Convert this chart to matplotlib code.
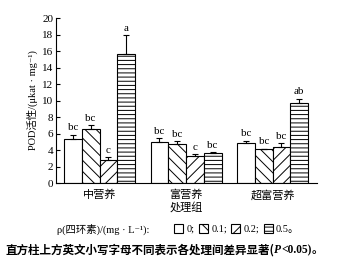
import numpy as np
import matplotlib
matplotlib.use("Agg")
import matplotlib.pyplot as plt
from matplotlib.patches import Patch

plt.rcParams['font.family'] = ['Liberation Serif', 'Noto Sans CJK SC', 'DejaVu Serif']
plt.rcParams['hatch.linewidth'] = 0.7

# data
groups = ['中营养', '富营养', '超富营养']
conc_labels = ['0;', '0.1;', '0.2;', '0.5。']
hatches = ['', '\\\\\\', '///', '----']

pod_0 = [5.3, 5.0, 4.8]
pod_01 = [6.5, 4.7, 4.1]
pod_02 = [2.8, 3.3, 4.4]
pod_05 = [15.6, 3.6, 9.7]
err_0 = [0.55, 0.4, 0.3]
err_01 = [0.5, 0.35, 0.08]
err_02 = [0.3, 0.2, 0.4]
err_05 = [2.3, 0.1, 0.5]
sig_0 = ['bc', 'bc', 'bc']
sig_01 = ['bc', 'bc', 'bc']
sig_02 = ['c', 'c', 'bc']
sig_05 = ['a', 'bc', 'ab']

values = [pod_0, pod_01, pod_02, pod_05]
errors = [err_0, err_01, err_02, err_05]
letters = [sig_0, sig_01, sig_02, sig_05]

fig = plt.figure(figsize=(3.48, 2.62), dpi=100)
ax = fig.add_axes([0.161, 0.3015, 0.75, 0.6295])

x = np.arange(len(groups))
w = 0.205
for i in range(4):
    xs = x + (i - 1.5) * w
    ax.bar(xs, values[i], w, color='white', edgecolor='black', linewidth=0.8,
           hatch=hatches[i], zorder=2)
    ax.errorbar(xs, values[i], yerr=[np.zeros(3), errors[i]], fmt='none',
                ecolor='black', elinewidth=0.8, capsize=2.2, capthick=0.8, zorder=3)
    for xi, v, e, s in zip(xs, values[i], errors[i], letters[i]):
        ax.text(xi, v + e + 0.3, s, ha='center', va='bottom', fontsize=8)

ax.set_xlim(-0.503, 2.514)
ax.set_ylim(0, 20)
ax.set_yticks(range(0, 21, 2))
ax.set_xticks(x)
ax.set_xticklabels(groups, fontsize=8)
ax.tick_params(axis='y', direction='in', length=3, width=0.8, labelsize=8, pad=2)
ax.tick_params(axis='x', length=0, pad=5)
ax.spines['top'].set_visible(False)
ax.spines['right'].set_visible(False)
ax.spines['left'].set_linewidth(0.8)
ax.spines['bottom'].set_linewidth(0.8)
ax.set_xlabel('处理组', fontsize=8, labelpad=1)
ax.set_ylabel('POD活性/(μkat · mg⁻¹)', fontsize=7.5, labelpad=3)

# legend line under the axis
fig.text(57 / 348, 1 - 229 / 262, 'ρ(四环素)/(mg · L⁻¹):', fontsize=7.5,
         ha='left', va='center')
handles = [Patch(facecolor='white', edgecolor='black', linewidth=0.8, hatch=h)
           for h in hatches]
fig.legend(handles, conc_labels, loc='center left', ncol=4,
           bbox_to_anchor=(174 / 348, 1 - 229 / 262), frameon=False,
           fontsize=7.5, handlelength=0.9, handleheight=0.9,
           handletextpad=0.3, columnspacing=0.4, borderpad=0, borderaxespad=0)

# caption, written piece by piece so P can be italic
renderer = fig.canvas.get_renderer()
pieces = [('直方柱上方英文小写字母不同表示各处理间差异显著(', 'normal'),
          ('P', 'italic'), ('<0.05)', 'normal'), ('。', 'normal')]
xpos = 5
for txt, style in pieces:
    fam = ['Noto Sans CJK SC'] if txt[0] > '\u3000' else ['Liberation Serif', 'Noto Sans CJK SC']
    t = fig.text(xpos / 348, 1 - 250 / 262, txt, fontsize=8.3, fontweight='bold',
                 style=style, ha='left', va='center', family=fam)
    xpos += t.get_window_extent(renderer).width

fig.savefig('out.png', dpi=100)
